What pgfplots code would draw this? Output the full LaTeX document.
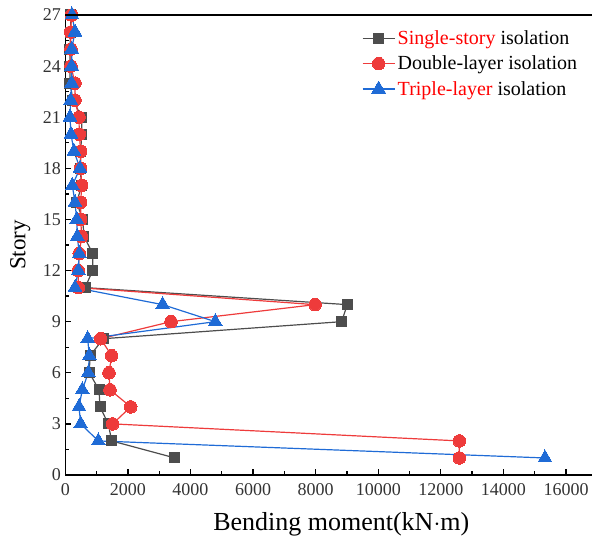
\documentclass[border=0pt]{standalone}
\usepackage{pgfplots}
\pgfplotsset{compat=1.18}
\usepackage{pgfplotstable}
\usepackage{fontspec}
\setmainfont{Liberation Serif}

\definecolor{sgray}{HTML}{4D4D4D}
\definecolor{sred}{HTML}{EE3B3B}
\definecolor{sblue}{HTML}{1F6BD6}

% story, bending moment (kN m)
\pgfplotstableread{
s m
27 180
26 170
25 150
24 150
23 150
22 246
21 524
20 524
19 492
18 470
17 524
16 364
15 556
14 597
13 875
12 875
11 630
10 9010
9 8830
8 1215
7 790
6 767
5 1077
4 1109
3 1374
2 1482
1 3505
}\single
\pgfplotstableread{
s m
27 200
26 172
25 180
24 180
23 310
22 310
21 438
20 447
19 492
18 492
17 524
16 492
15 492
14 524
13 447
12 415
11 415
10 7980
9 3377
8 1130
7 1482
6 1396
5 1428
4 2090
3 1514
2 12590
1 12590
}\double
\pgfplotstableread{
s m
27 214
26 310
25 204
24 204
23 204
22 172
21 150
20 182
19 278
18 470
17 224
16 310
15 364
14 383
13 447
12 415
11 310
10 3110
9 4793
8 715
7 767
6 735
5 543
4 438
3 492
2 1054
1 15327
}\triple

\begin{document}
\begin{tikzpicture}
\begin{axis}[
  name=ax,
  scale only axis,
  width=526.7pt, height=460pt,
  xmin=0, xmax=16830, ymin=0, ymax=27,
  axis x line*=bottom, axis y line*=left,
  axis line style={line width=1.5pt, black},
  tick align=inside,
  major tick length=6pt, minor tick length=4pt,
  tick style={line width=1.3pt, black},
  xtick={0,2000,...,16000},
  minor x tick num=1,
  ytick={0,3,...,27},
  minor y tick num=1,
  scaled x ticks=false,
  /pgf/number format/1000 sep={},
  /pgf/number format/assume math mode=true,
  tick label style={font=\fontsize{18}{18}\selectfont, text=black!80},
  xticklabel style={yshift=-5pt},
  yticklabel style={xshift=-1pt},
  clip=false,
  xlabel={Bending moment(kN$\cdot$m)},
  ylabel={Story},
  xlabel style={font=\fontsize{26}{26}\selectfont,
    at={(axis description cs:0.524,-0.08)}, anchor=north, inner sep=0pt},
  ylabel style={font=\fontsize{23}{23}\selectfont,
    at={(axis description cs:-0.066,0.5)}, anchor=south, inner sep=0pt},
  legend style={at={(axis description cs:0.563,0.972)}, anchor=north west,
    draw=none, fill=none, font=\fontsize{20}{20}\selectfont,
    row sep=5pt, inner sep=0pt, nodes={inner sep=2.5pt},
    /tikz/every odd column/.style={xshift=0pt}},
  legend cell align=left,
  legend image code/.code={\draw[#1, mark repeat=2, mark phase=2]
    plot coordinates {(0pt,0pt) (16pt,0pt) (32pt,0pt)};},
  legend style={/tikz/every even column/.append style={column sep=0pt},
    cells={xshift=4pt}},
]
\addplot[color=sgray, line width=1.2pt, mark=square*, mark size=5pt,
  mark options={fill=sgray, draw=sgray, line width=0pt}] table[x=m, y=s] {\single};
\addlegendentry{\textcolor{red}{Single-story} isolation}
\addplot[color=sred, line width=1.2pt, mark=*, mark size=6.3pt,
  mark options={fill=sred, draw=sred, line width=0pt}] table[x=m, y=s] {\double};
\addlegendentry{Double-layer isolation}
\addplot[color=sblue, line width=1.2pt, mark=triangle*, mark size=8pt,
  mark options={fill=sblue, draw=sblue, line width=0pt}] table[x=m, y=s] {\triple};
\addlegendentry{\textcolor{red}{Triple-layer} isolation}
\end{axis}
\draw[line width=1.5pt] (ax.north west) -- (ax.north east);
\pgfresetboundingbox
\path ([shift={(-65.3pt,-66pt)}]ax.south west) rectangle ([shift={(0pt,15pt)}]ax.north east);
\end{tikzpicture}
\end{document}
